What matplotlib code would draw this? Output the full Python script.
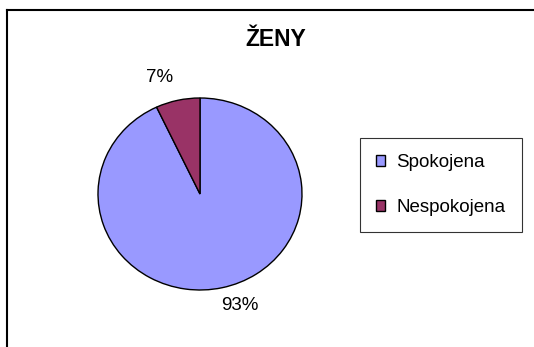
import matplotlib
matplotlib.use("Agg")
import matplotlib.pyplot as plt
from matplotlib.lines import Line2D

plt.rcParams['font.family'] = ['Liberation Sans', 'DejaVu Sans']

# -------------------------------
# Data
# -------------------------------
title = "ŽENY"
categories = ["Spokojena", "Nespokojena"]
values = [93, 7]
colors = ["#9999FF", "#993366"]

W, H = 534, 347
fig = plt.figure(figsize=(W / 100, H / 100), dpi=100)

# chart border: only the top and left edges fall inside the image
top = 1 - 10 / H
left = 7 / W
fig.lines.append(Line2D([left, 1.0], [top, top], transform=fig.transFigure,
                        color="black", linewidth=1.5))
fig.lines.append(Line2D([left, left], [0.0, top], transform=fig.transFigure,
                        color="black", linewidth=1.5))

# pie axes, slightly wider than tall
ax = fig.add_axes([98 / W, (H - 290) / H, 204 / W, 192 / H])
wedges, texts, autotexts = ax.pie(
    values, colors=colors, startangle=90, counterclock=False,
    autopct=lambda p: f"{p:.0f}%",
    wedgeprops=dict(edgecolor="black", linewidth=1.0),
    textprops=dict(fontsize=13.5, color="black"))
ax.set_aspect("auto")
ax.set_xlim(-1, 1)
ax.set_ylim(-1, 1)

# value labels outside the pie
label_pos = [(0.39, -1.16), (-0.40, 1.21)]
for t, pos in zip(autotexts, label_pos):
    t.set_position(pos)
    t.set_ha("center")
    t.set_va("center")

fig.text(276 / W, 1 - 40 / H, title, ha="center", va="center",
         fontsize=16.5, fontweight="bold")

leg = fig.legend(wedges, categories, loc="upper left",
                 bbox_to_anchor=(360 / W, 1 - 138 / H),
                 frameon=True, fancybox=False, edgecolor="black",
                 fontsize=13.5, handlelength=0.5, handleheight=0.5,
                 handletextpad=0.6, labelspacing=1.5, borderpad=0.85,
                 borderaxespad=0)
leg.get_frame().set_linewidth(0.8)

fig.savefig("out.png", dpi=100)
